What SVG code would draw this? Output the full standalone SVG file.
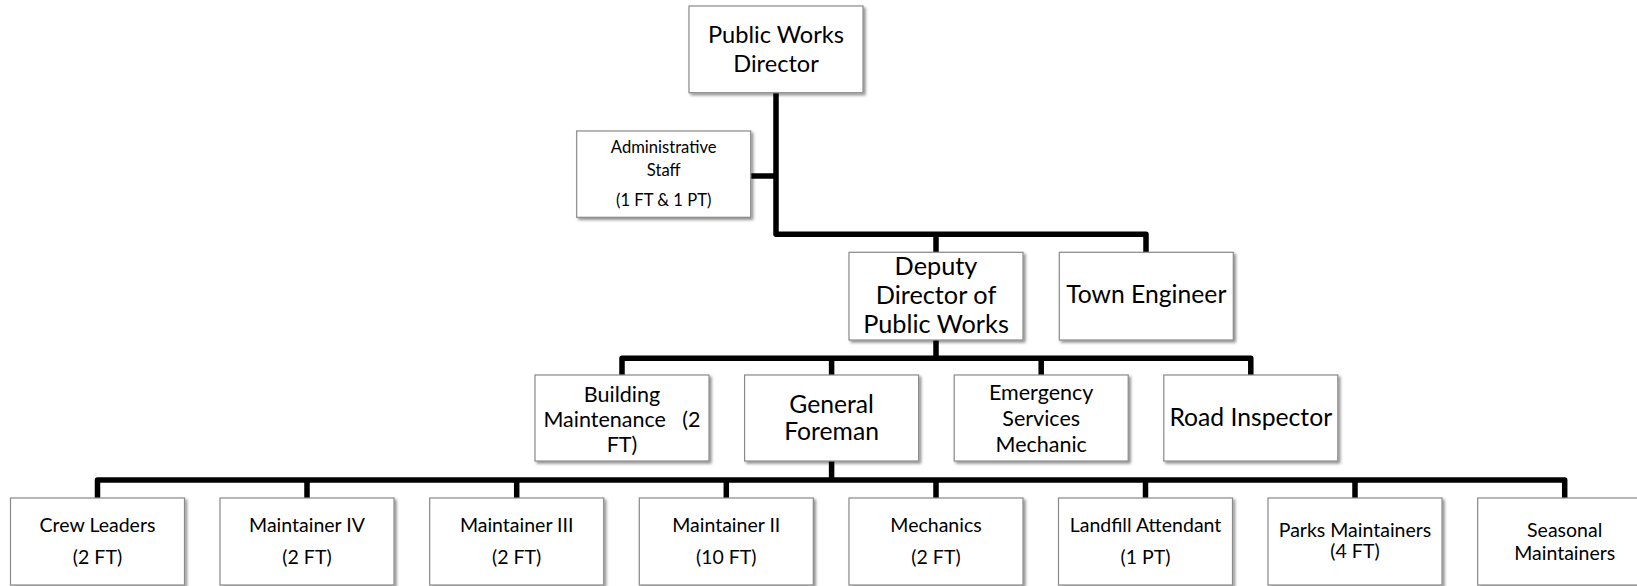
<svg xmlns="http://www.w3.org/2000/svg" width="1637" height="586" viewBox="0 0 1637 586">
<defs>
<filter id="sh" x="-10%" y="-10%" width="130%" height="130%">
<feGaussianBlur in="SourceAlpha" stdDeviation="1.5"/>
<feOffset dx="2" dy="2" result="b"/>
<feComponentTransfer><feFuncA type="linear" slope="0.45"/></feComponentTransfer>
<feMerge><feMergeNode/><feMergeNode in="SourceGraphic"/></feMerge>
</filter>
</defs>
<style>
.b{fill:#fff;stroke:#8a8a8a;stroke-width:1.2;filter:url(#sh)}
text{font-family:Lato,"Open Sans","Liberation Sans",sans-serif;fill:#000;text-anchor:middle}
.d{font-size:23.6px}
.p{font-size:25.3px}
.l{font-size:24.7px}
.m{font-size:21.5px}
.a{font-size:16.6px}
.s{font-size:19.5px}
.c{fill:none;stroke:#000;stroke-width:5.5;stroke-linejoin:round}
</style>
<rect width="1637" height="586" fill="#fff"/>
<g id="connectors">
<path class="c" d="M776 92.7V234.3H1146V252.3M936 234.3V252.3"/>
<path class="c" d="M750.7 176H776"/>
<path class="c" d="M936 340V358.3M622 375V358.3H1250.8V375M831.6 358.3V375M1041.2 358.3V375"/>
<path class="c" d="M831.6 461V480M97.5 498V480H1564.7V498M307 480V498M516.7 480V498M726.3 480V498M936 480V498M1145.5 480V498M1355 480V498"/>
</g>
<g id="director"><rect class="b" x="689" y="6" width="174" height="86.7"/><text class="d" x="776" y="43.3">Public Works</text><text class="d" x="776" y="71.7">Director</text></g>
<g id="admin"><rect class="b" x="576.7" y="131" width="174" height="86.3"/><text class="a" x="663.7" y="153.3">Administrative</text><text class="a" x="663.7" y="175.5">Staff</text><text class="a" x="663.7" y="205.5">(1 FT &amp; 1 PT)</text></g>
<g id="deputy"><rect class="b" x="849" y="252.3" width="174" height="87.7"/><text class="p" x="936" y="275">Deputy</text><text class="p" x="936" y="304.3">Director of</text><text class="p" x="936" y="333.3">Public Works</text></g>
<g id="engineer"><rect class="b" x="1059.3" y="252.3" width="174" height="87.7"/><text class="l" x="1146.3" y="302.8">Town Engineer</text></g>
<g id="building"><rect class="b" x="535" y="375" width="174" height="86"/><text class="m" x="622" y="401.7">Building</text><text class="m" x="622" y="427.3" xml:space="preserve">Maintenance   (2</text><text class="m" x="622" y="451.7">FT)</text></g>
<g id="foreman"><rect class="b" x="744.6" y="375" width="174" height="86"/><text class="l" x="831.6" y="412.7">General</text><text class="l" x="831.6" y="440">Foreman</text></g>
<g id="emergency"><rect class="b" x="954.2" y="375" width="174" height="86"/><text class="m" x="1041.2" y="400">Emergency</text><text class="m" x="1041.2" y="426">Services</text><text class="m" x="1041.2" y="452">Mechanic</text></g>
<g id="road"><rect class="b" x="1163.8" y="375" width="174" height="86"/><text class="l" x="1250.8" y="426">Road Inspector</text></g>
<g id="crew"><rect class="b" x="10.5" y="498" width="174" height="87"/><text class="s" x="97.5" y="531.7">Crew Leaders</text><text class="s" x="97.5" y="564">(2 FT)</text></g>
<g id="m4"><rect class="b" x="220" y="498" width="174" height="87"/><text class="s" x="307" y="531.7">Maintainer IV</text><text class="s" x="307" y="564">(2 FT)</text></g>
<g id="m3"><rect class="b" x="429.7" y="498" width="174" height="87"/><text class="s" x="516.7" y="531.7">Maintainer III</text><text class="s" x="516.7" y="564">(2 FT)</text></g>
<g id="m2"><rect class="b" x="639.3" y="498" width="174" height="87"/><text class="s" x="726.3" y="531.7">Maintainer II</text><text class="s" x="726.3" y="564">(10 FT)</text></g>
<g id="mech"><rect class="b" x="849" y="498" width="174" height="87"/><text class="s" x="936" y="531.7">Mechanics</text><text class="s" x="936" y="564">(2 FT)</text></g>
<g id="landfill"><rect class="b" x="1058.5" y="498" width="174" height="87"/><text class="s" x="1145.5" y="531.7">Landfill Attendant</text><text class="s" x="1145.5" y="564">(1 PT)</text></g>
<g id="parks"><rect class="b" x="1268" y="498" width="174" height="87"/><text class="s" x="1355" y="536.7">Parks Maintainers</text><text class="s" x="1355" y="558.3">(4 FT)</text></g>
<g id="seasonal"><rect class="b" x="1477.7" y="498" width="174" height="87"/><text class="s" x="1564.7" y="536.7">Seasonal</text><text class="s" x="1564.7" y="560">Maintainers</text></g>
</svg>
